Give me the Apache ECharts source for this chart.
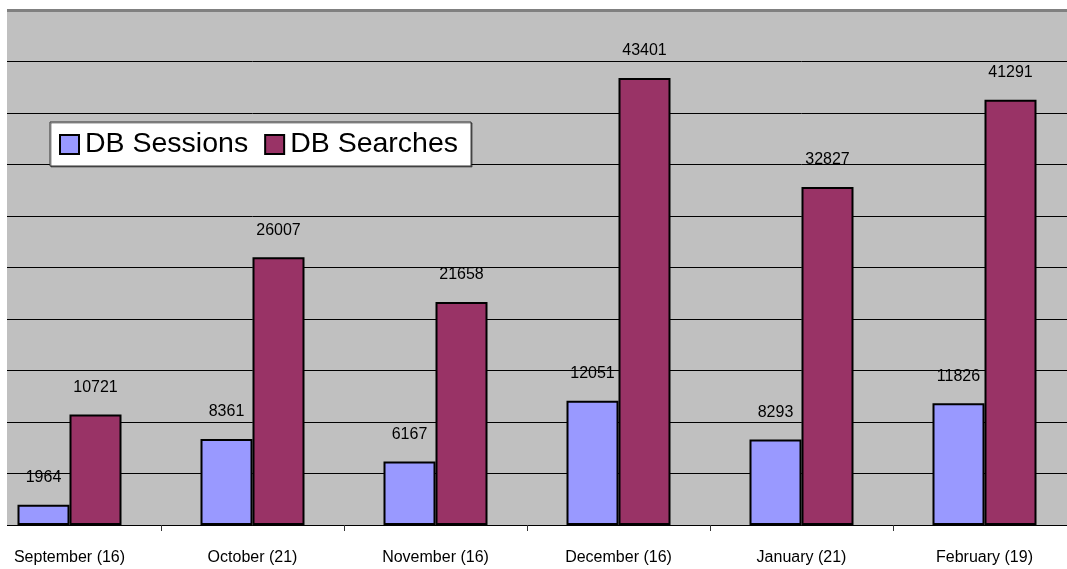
<!DOCTYPE html>
<html>
<head>
<meta charset="utf-8">
<script src="https://cdn.jsdelivr.net/npm/echarts@6/dist/echarts.min.js"></script>
<style>
html,body{margin:0;padding:0;background:#fff;overflow:hidden;width:1067px;height:569px;}
#chart{width:1098px;height:569px;margin-left:-22px;}
</style>
</head>
<body>
<div id="chart"></div>
<script>
const categories = ['September (16)', 'October (21)', 'November (16)', 'December (16)', 'January (21)', 'February (19)'];
const sessions = [1964, 8361, 6167, 12051, 8293, 11826];
const searches = [10721, 26007, 21658, 43401, 32827, 41291];
const seriesNames = ['DB Sessions', 'DB Searches'];
const yMax = 50000;
const yInterval = 5000;

const chart = echarts.init(document.getElementById('chart'));
const font = '"Liberation Sans", Arial, sans-serif';
const labelCfg = {
  show: true, position: 'top', distance: 19,
  color: '#000', fontFamily: font, fontSize: 16
};
chart.setOption({
  animation: false,
  backgroundColor: '#fff',
  grid: {
    left: 0, right: 0, top: 10, bottom: 44,
    show: true, backgroundColor: '#C0C0C0', borderWidth: 0
  },
  legend: {
    data: seriesNames,
    left: 72, top: 122,
    orient: 'horizontal',
    backgroundColor: '#fff',
    borderColor: '#333', borderWidth: 1,
    shadowColor: 'rgba(0,0,0,0.45)', shadowOffsetX: 1, shadowOffsetY: 1, shadowBlur: 0,
    padding: [8, 13, 7, 9],
    itemWidth: 19, itemHeight: 19, itemGap: 16,
    icon: 'rect',
    itemStyle: { borderColor: '#000', borderWidth: 2 },
    textStyle: { fontFamily: font, fontSize: 28.5, color: '#000', lineHeight: 28, padding: [0, 0, 0, 1] }
  },
  xAxis: [{
    type: 'category',
    data: categories,
    boundaryGap: true,
    axisLine: { show: true, lineStyle: { color: '#000', width: 1 } },
    axisTick: { show: true, length: 6, lineStyle: { color: '#333' } },
    axisLabel: { color: '#000', fontFamily: font, fontSize: 16, margin: 25 },
    splitLine: { show: false },
    z: 3
  }, {
    type: 'category',
    data: categories,
    position: 'top',
    axisLine: { show: true, lineStyle: { color: '#808080', width: 3 } },
    axisTick: { show: false },
    axisLabel: { show: false },
    splitLine: { show: false },
    z: 4
  }],
  yAxis: {
    type: 'value',
    min: 0, max: yMax, interval: yInterval,
    axisLine: { show: false },
    axisTick: { show: false },
    axisLabel: { show: false },
    splitLine: { show: true, lineStyle: { color: '#000', width: 1 } }
  },
  series: [{
    name: seriesNames[0], type: 'bar', data: sessions,
    barWidth: 52, barGap: '0%',
    itemStyle: { color: '#9999FF', borderColor: '#000', borderWidth: 2 },
    label: labelCfg
  }, {
    name: seriesNames[1], type: 'bar', data: searches,
    barWidth: 52, barGap: '0%',
    itemStyle: { color: '#993366', borderColor: '#000', borderWidth: 2 },
    label: labelCfg
  }],
  graphic: [{
    type: 'rect', left: 0, top: 0, z: 100,
    shape: { width: 29, height: 569 },
    style: { fill: '#fff' }
  }]
});
</script>
</body>
</html>
